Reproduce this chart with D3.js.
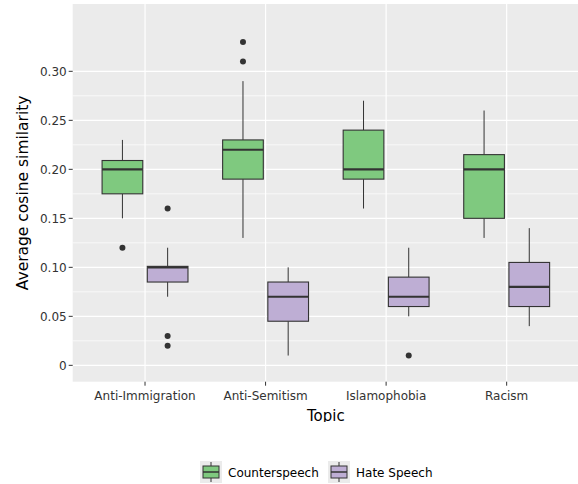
<!DOCTYPE html>
<html>
<head>
<meta charset="utf-8">
<script src="https://cdn.jsdelivr.net/npm/d3@7"></script>
<style>
body{margin:0;background:#fff;}
text{font-family:"DejaVu Sans",sans-serif;}
</style>
</head>
<body>
<script>
// data
var topics = ["Anti-Immigration","Anti-Semitism","Islamophobia","Racism"];
var groups = ["Counterspeech","Hate Speech"];
var groupColors = ["#7fc97f","#beaed4"];
// five number summaries per topic: [lower whisker, q1, median, q3, upper whisker]
var counterStats = [
  [0.15, 0.175, 0.20, 0.209, 0.23],
  [0.13, 0.19, 0.22, 0.23, 0.29],
  [0.16, 0.19, 0.20, 0.24, 0.27],
  [0.13, 0.15, 0.20, 0.215, 0.26]
];
var hateStats = [
  [0.07, 0.085, 0.10, 0.101, 0.12],
  [0.01, 0.045, 0.07, 0.085, 0.10],
  [0.05, 0.06, 0.07, 0.09, 0.12],
  [0.04, 0.06, 0.08, 0.105, 0.14]
];
var counterOutliers = [[0.12], [0.31, 0.33], [], []];
var hateOutliers = [[0.16, 0.03, 0.02], [], [0.01], []];
var yTicks = [0, 0.05, 0.10, 0.15, 0.20, 0.25, 0.30];
var yTickLabels = ["0","0.05","0.10","0.15","0.20","0.25","0.30"];
var yMinor = [0.025, 0.075, 0.125, 0.175, 0.225, 0.275];

var W = 578, H = 484;
var pLeft = 72.7, pRight = 579, pTop = 4, pBottom = 381.7;

var svg = d3.select("body").append("svg")
  .attr("width", W).attr("height", H);

var x = d3.scalePoint().domain(topics).range([pLeft, pRight]).padding(0.6);
var step = x.step();
var y = d3.scaleLinear().domain([-0.0167, 0.3687]).range([pBottom, pTop]);

// panel
svg.append("rect").attr("x", pLeft).attr("y", pTop)
  .attr("width", pRight - pLeft).attr("height", pBottom - pTop)
  .attr("fill", "#ebebeb");

var grid = svg.append("g");
grid.selectAll(".minor").data(yMinor).enter().append("line")
  .attr("x1", pLeft).attr("x2", pRight)
  .attr("y1", d => y(d)).attr("y2", d => y(d))
  .attr("stroke", "#fff").attr("stroke-width", 0.7);
grid.selectAll(".major").data(yTicks).enter().append("line")
  .attr("x1", pLeft).attr("x2", pRight)
  .attr("y1", d => y(d)).attr("y2", d => y(d))
  .attr("stroke", "#fff").attr("stroke-width", 1.2);
grid.selectAll(".vmajor").data(topics).enter().append("line")
  .attr("y1", pTop).attr("y2", pBottom)
  .attr("x1", d => x(d)).attr("x2", d => x(d))
  .attr("stroke", "#fff").attr("stroke-width", 1.2);

// boxes
var dodge = 0.75 * step / 2;
var boxW = 0.75 * step / 2 * 0.9;
var series = [
  {stats: counterStats, out: counterOutliers, col: groupColors[0], off: -dodge / 2},
  {stats: hateStats, out: hateOutliers, col: groupColors[1], off: dodge / 2}
];

series.forEach(function(s) {
  var g = svg.append("g");
  var rows = topics.map(function(t, i) { return {t: t, v: s.stats[i], out: s.out[i]}; });
  var item = g.selectAll("g").data(rows).enter().append("g")
    .attr("transform", d => "translate(" + (x(d.t) + s.off) + ",0)");
  item.append("line").attr("x1", 0).attr("x2", 0)
    .attr("y1", d => y(d.v[4])).attr("y2", d => y(d.v[3]))
    .attr("stroke", "#333").attr("stroke-width", 1);
  item.append("line").attr("x1", 0).attr("x2", 0)
    .attr("y1", d => y(d.v[1])).attr("y2", d => y(d.v[0]))
    .attr("stroke", "#333").attr("stroke-width", 1);
  item.append("rect")
    .attr("x", -boxW / 2).attr("width", boxW)
    .attr("y", d => y(d.v[3])).attr("height", d => y(d.v[1]) - y(d.v[3]))
    .attr("fill", s.col).attr("stroke", "#333").attr("stroke-width", 1.1);
  item.append("line").attr("x1", -boxW / 2).attr("x2", boxW / 2)
    .attr("y1", d => y(d.v[2])).attr("y2", d => y(d.v[2]))
    .attr("stroke", "#333").attr("stroke-width", 2.2);
  item.selectAll("circle").data(d => d.out).enter().append("circle")
    .attr("cx", 0).attr("cy", d => y(d)).attr("r", 3)
    .attr("fill", "#333");
});

// axes
var yAxis = svg.append("g");
yAxis.selectAll("line").data(yTicks).enter().append("line")
  .attr("x1", pLeft - 4).attr("x2", pLeft)
  .attr("y1", d => y(d)).attr("y2", d => y(d))
  .attr("stroke", "#333").attr("stroke-width", 1);
yAxis.selectAll("text").data(yTicks).enter().append("text")
  .attr("x", pLeft - 6).attr("y", d => y(d)).attr("dy", "0.36em")
  .attr("text-anchor", "end").attr("font-size", 12).attr("fill", "#333")
  .text((d, i) => yTickLabels[i]);

var xAxis = svg.append("g");
xAxis.selectAll("line").data(topics).enter().append("line")
  .attr("x1", d => x(d)).attr("x2", d => x(d))
  .attr("y1", pBottom).attr("y2", pBottom + 4)
  .attr("stroke", "#333").attr("stroke-width", 1);
xAxis.selectAll("text").data(topics).enter().append("text")
  .attr("x", d => x(d)).attr("y", 400)
  .attr("text-anchor", "middle").attr("font-size", 12).attr("fill", "#333")
  .text(d => d);

svg.append("clipPath").attr("id", "cut").append("rect")
  .attr("x", 0).attr("y", 400).attr("width", W).attr("height", 22);
svg.append("text").attr("x", (pLeft + pRight) / 2).attr("y", 421)
  .attr("clip-path", "url(#cut)")
  .attr("text-anchor", "middle").attr("font-size", 15).attr("fill", "#000")
  .text("Topic");

svg.append("text")
  .attr("transform", "translate(28," + ((pTop + pBottom) / 2) + ") rotate(-90)")
  .attr("text-anchor", "middle").attr("font-size", 15.5).attr("fill", "#000")
  .text("Average cosine similarity");

// legend
var legX = [200, 328];
var leg = svg.append("g");
groups.forEach(function(name, i) {
  var k = leg.append("g").attr("transform", "translate(" + legX[i] + ",461)");
  k.append("rect").attr("width", 22).attr("height", 22).attr("fill", "#ebebeb");
  k.append("line").attr("x1", 11).attr("x2", 11).attr("y1", 1).attr("y2", 21)
    .attr("stroke", "#333").attr("stroke-width", 1);
  k.append("rect").attr("x", 3).attr("y", 5).attr("width", 16).attr("height", 12)
    .attr("fill", groupColors[i]).attr("stroke", "#333").attr("stroke-width", 1);
  k.append("line").attr("x1", 3).attr("x2", 19).attr("y1", 11).attr("y2", 11)
    .attr("stroke", "#333").attr("stroke-width", 1.5);
  k.append("text").attr("x", 28).attr("y", 15.5)
    .attr("font-size", 12).attr("fill", "#000").text(name);
});
</script>
</body>
</html>
